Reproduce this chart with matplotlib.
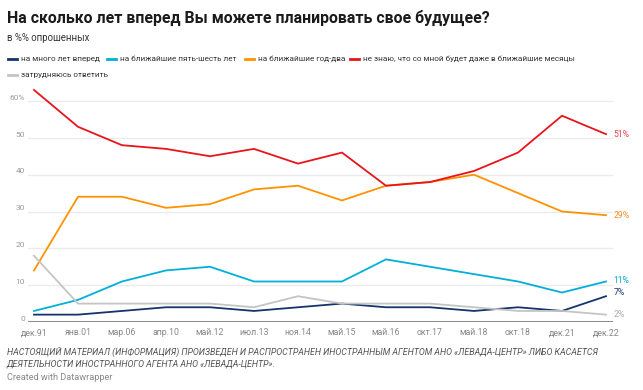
import matplotlib
matplotlib.use("Agg")
import matplotlib.pyplot as plt
from matplotlib.lines import Line2D

plt.rcParams['font.family'] = ['Roboto', 'DejaVu Sans']

categories = ["дек.91", "янв.01", "мар.06", "апр.10", "май.12", "июл.13", "ноя.14",
              "май.15", "май.16", "окт.17", "май.18", "окт.18", "дек.21", "дек.22"]
many_years = [2, 2, 3, 4, 4, 3, 4, 5, 4, 4, 3, 4, 3, 7]
five_six = [3, 6, 11, 14, 15, 11, 11, 11, 17, 15, 13, 11, 8, 11]
one_two = [14, 34, 34, 31, 32, 36, 37, 33, 37, 38, 40, 35, 30, 29]
dont_know = [63, 53, 48, 47, 45, 47, 43, 46, 37, 38, 41, 46, 56, 51]
hard_say = [18, 5, 5, 5, 5, 4, 7, 5, 5, 5, 4, 3, 3, 2]

series_names = ["на много лет вперед", "на ближайшие пять-шесть лет", "на ближайшие год-два",
                "не знаю, что со мной будет даже в ближайшие месяцы", "затрудняюсь ответить"]
series_vals = [many_years, five_six, one_two, dont_know, hard_say]
colors = ["#17336b", "#00b0d9", "#ff9200", "#e8141c", "#c4c4c4"]
label_colors = ["#17336b", "#00a8d0", "#f58a1f", "#e8404a", "#aaaaaa"]
yticks = [0, 10, 20, 30, 40, 50, 60]
ytick_labels = ["0", "10", "20", "30", "40", "50", "60%"]

W, H = 643, 390
fig = plt.figure(figsize=(W / 100, H / 100), dpi=100)

ax_left, ax_right = 28, 613
y0_px, y60_px = 322, 101
ppu = (y0_px - y60_px) / 60
ytop = 64
ax = fig.add_axes([ax_left / W, (H - y0_px) / H, (ax_right - ax_left) / W, ytop * ppu / H])
ax.set_xlim(-6 / 44, 13 + 7 / 44)
ax.set_ylim(0, ytop)

x = list(range(len(categories)))
order = [4, 0, 1, 2, 3]
for i in order:
    ax.plot(x, series_vals[i], color=colors[i], lw=1.3, clip_on=False, zorder=3 + i,
            solid_joinstyle='round')

for y in yticks[1:]:
    ax.axhline(y, color="#ebebeb", lw=1, zorder=1)
ax.axhline(0, color="#888888", lw=1.4, zorder=2)

for s in ax.spines.values():
    s.set_visible(False)
ax.set_yticks([])
ax.set_xticks([])

for i, lab in enumerate(ytick_labels):
    ax.text(-0.2, yticks[i] + 0.9, lab, ha="right", va="center", fontsize=6.0, color="#9a9a9a",
            transform=ax.transData, clip_on=False)
for i, c in enumerate(categories):
    ax.text(x[i], -2.9, c, ha="center", va="center", fontsize=6.3, color="#888888",
            clip_on=False)

for i in range(5):
    ax.text(13 + 0.17, series_vals[i][-1] + [1, 0.2, 0, 0, 0][i], f"{series_vals[i][-1]}%",
            ha="left", va="center", fontsize=6.2, color=label_colors[i], clip_on=False)

fig.text(7 / W, 1 - 18 / H, "На сколько лет вперед Вы можете планировать свое будущее?",
         fontsize=11.4, fontweight="bold", color="#1a1a1a", va="center", ha="left")
fig.text(7 / W, 1 - 38 / H, "в %% опрошенных", fontsize=6.9, color="#333333", va="center")

legend_text_x = [21, 120, 258, 363, 21]
legend_y = [59, 59, 59, 59, 75]
for i in range(5):
    tx, py = legend_text_x[i], legend_y[i]
    fig.add_artist(Line2D([(tx - 13) / W, (tx - 4) / W], [1 - py / H, 1 - py / H],
                          color=colors[i], lw=2, transform=fig.transFigure))
    fig.text(tx / W, 1 - py / H, series_names[i], fontsize=5.9, color="#333333",
             va="center", ha="left")

fig.text(7 / W, 1 - 352 / H,
         "НАСТОЯЩИЙ МАТЕРИАЛ (ИНФОРМАЦИЯ) ПРОИЗВЕДЕН И РАСПРОСТРАНЕН ИНОСТРАННЫМ АГЕНТОМ АНО «ЛЕВАДА-ЦЕНТР» ЛИБО КАСАЕТСЯ",
         fontsize=6.38, style="italic", color="#555555", va="center")
fig.text(7 / W, 1 - 364 / H,
         "ДЕЯТЕЛЬНОСТИ ИНОСТРАННОГО АГЕНТА АНО «ЛЕВАДА-ЦЕНТР».",
         fontsize=6.38, style="italic", color="#555555", va="center")
fig.text(7 / W, 1 - 378 / H, "Created with Datawrapper", fontsize=6.6, color="#888888",
         va="center")

fig.savefig("out.png", dpi=100)
